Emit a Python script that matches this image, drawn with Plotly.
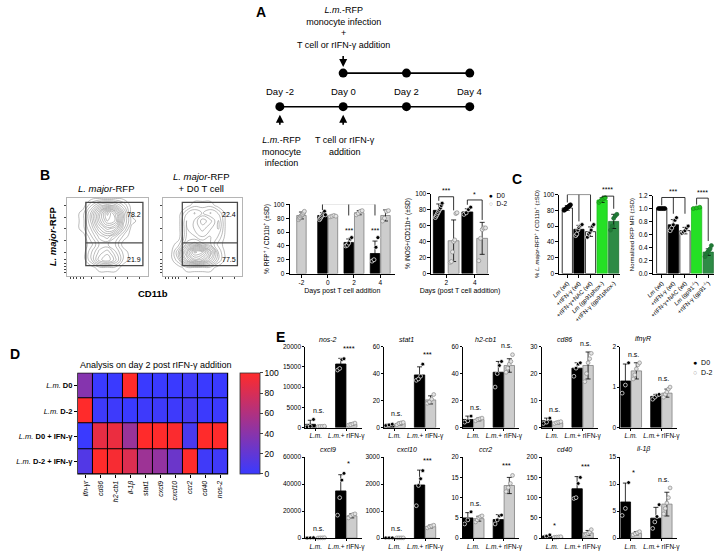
import plotly.graph_objects as go

W, H = 720, 551
FONT = "Liberation Sans, Arial, sans-serif"

# ======================= DATA =======================
# --- Panel A: experimental timeline ---
timeline_days = [-2, 0, 2, 4]
timeline_top_days = [0, 2, 4]
timeline_labels = ["Day -2", "Day 0", "Day 2", "Day 4"]

# --- Panel B: flow cytometry density (estimated grid; rows = RFP low->high, cols = CD11b low->high) ---
flow_grid = [0.0, 0.1, 0.2, 0.3, 0.4, 0.5, 0.6, 0.7, 0.8, 0.9, 1.0]
flow_lm = [
    [0, 0, 0, 0, 0, 0, 0, 0, 0, 0, 0],
    [0, 0, 0, 0, 1, 1, 1, 0, 0, 0, 0],
    [0, 0, 0, 2, 5, 6, 4, 1, 0, 0, 0],
    [0, 0, 0, 2, 4, 5, 3, 1, 0, 0, 0],
    [0, 0, 0, 1, 3, 3, 2, 0, 0, 0, 0],
    [0, 0, 0, 2, 4, 5, 3, 1, 0, 0, 0],
    [0, 0, 1, 3, 6, 8, 7, 3, 0, 0, 0],
    [0, 0, 1, 4, 8, 11, 10, 4, 1, 0, 0],
    [0, 0, 1, 4, 8, 12, 9, 4, 0, 0, 0],
    [0, 0, 0, 2, 4, 5, 4, 2, 0, 0, 0],
    [0, 0, 0, 0, 0, 0, 0, 0, 0, 0, 0],
]
flow_lm_t = [
    [0, 0, 0, 0, 0, 0, 0, 0, 0, 0, 0],
    [0, 0, 0, 1, 1, 1, 1, 0, 0, 0, 0],
    [0, 0, 2, 6, 9, 8, 5, 2, 0, 0, 0],
    [0, 0, 3, 8, 12, 11, 7, 2, 0, 0, 0],
    [0, 0, 1, 4, 5, 4, 3, 1, 0, 0, 0],
    [0, 0, 0, 3, 3, 2, 3, 2, 0, 0, 0],
    [0, 0, 0, 3, 2, 1, 2, 3, 0, 0, 0],
    [0, 0, 0, 3, 2, 0, 1, 3, 0, 0, 0],
    [0, 0, 0, 2, 3, 2, 3, 2, 0, 0, 0],
    [0, 0, 0, 0, 1, 1, 1, 0, 0, 0, 0],
    [0, 0, 0, 0, 0, 0, 0, 0, 0, 0, 0],
]
flow_lm_quads = ["78.2", "21.9"]
flow_lm_t_quads = ["22.4", "77.5"]

# --- Panel B: % RFP+ / CD11b+ over days ---
b1_d0_days = [0, 2, 4]
b1_d0_mean = [84, 45, 29]
b1_d0_sd = [4, 5, 18]
b1_d0_pts = [[78, 80, 82, 84, 86, 88, 90, 85], [40, 41, 44, 50, 52], [18, 20, 38, 52]]
b1_d2_days = [-2, 0, 2, 4]
b1_d2_mean = [84, 83, 88, 84]
b1_d2_sd = [5, 1, 3, 8]
b1_d2_pts = [[78, 80, 81, 83, 84, 85, 86, 88, 90], [82, 83, 84, 83], [85, 87, 90, 91], [76, 80, 90, 91]]

# --- Panel B: % iNOS+ / CD11b+ ---
b2_days = [2, 4]
b2_d0_mean = [79, 77]
b2_d0_sd = [8, 4]
b2_d0_pts = [[70, 72, 74, 76, 78, 80, 82, 85, 88], [74, 76, 80, 83]]
b2_d2_mean = [41, 44]
b2_d2_sd = [26, 20]
b2_d2_pts = [[14, 15, 27, 40, 42, 75, 76], [16, 44, 55, 57, 57]]

# --- Panel C ---
c1_labels = ["<i>Lm</i> (wt)", "+rIFN-γ (wt)", "+rIFN-γ+NAC (wt)", "<i>Lm</i> (gp91phox-)", "+rIFN-γ (gp91phox-)"]
c1_mean = [83, 56, 53, 93, 66]
c1_sd = [3, 5, 6, 3, 9]
c1_pts = [[80, 81, 82, 83, 84, 85, 86, 87], [48, 50, 55, 58, 60, 61, 62], [46, 50, 52, 55, 60, 62],
          [90, 92, 94, 95, 96], [55, 60, 70, 73, 75]]
c2_labels = ["<i>Lm</i> (wt)", "+rIFN-γ (wt)", "+rIFN-γ+NAC (wt)", "<i>Lm</i> (gp91<sup>-/-</sup>)", "+rIFN-γ (gp91<sup>-/-</sup>)"]
c2_mean = [1.0, 0.75, 0.66, 1.01, 0.33]
c2_sd = [0.01, 0.08, 0.05, 0.01, 0.05]
c2_pts = [[1, 1, 1, 1, 1], [0.66, 0.7, 0.75, 0.82, 0.86], [0.62, 0.64, 0.66, 0.7, 0.73],
          [1.0, 1.01, 1.02], [0.26, 0.3, 0.33, 0.36, 0.38, 0.43]]

# --- Panel D: heatmap ---
heat_rows = ["<i>L.m.</i> <b>D0</b>", "<i>L.m.</i> <b>D-2</b>", "<i>L.m.</i> <b>D0 + IFN-γ</b>", "<i>L.m.</i> <b>D-2 + IFN-γ</b>"]
heat_cols = ["ifn-γr", "cd86", "h2-cb1", "il-1β", "stat1", "cxcl9", "cxcl10", "ccr2", "cd40", "nos-2"]
heat_vals = [
    [38, 0, 0, 100, 0, 0, 0, 3, 0, 0],
    [100, 2, 2, 0, 2, 2, 2, 5, 1, 1],
    [0, 88, 90, 48, 100, 100, 98, 8, 100, 100],
    [12, 100, 96, 82, 50, 45, 25, 100, 3, 3],
]

# --- Panel E: gene expression ---
e_genes = ["nos-2", "stat1", "h2-cb1", "cd86", "ifnγR", "cxcl9", "cxcl10", "ccr2", "cd40", "il-1β"]
e_groups = ["<i>L.m.</i>", "<i>L.m.</i>+ rIFN-γ"]
e_ymax = [20000, 60, 60, 30, 2, 60000, 3000, 20, 200, 15]
e_dtick = [5000, 20, 20, 10, 1, 20000, 1000, 5, 50, 5]
e_d0_mean = [[800, 15700], [2, 39], [6, 41], [2.5, 22], [1.15, 0.77], [200, 35000], [10, 1970], [5, 4.6], [5, 122], [6.7, 3.7]]
e_d0_sd = [[1000, 1400], [0.5, 6], [2.5, 8], [1, 2], [0.42, 0.05], [100, 12000], [5, 550], [1.3, 1.2], [2, 30], [3.5, 2]]
e_d0_pts = [
    [[200, 300, 2000], [14200, 14600, 16800, 17000]],
    [[1.5, 2, 2.5], [35, 36, 38, 47]],
    [[4, 5, 8.5], [30, 40, 46, 49]],
    [[1.5, 2, 3.5], [19, 22, 23.5, 24]],
    [[0.85, 1.05, 1.6], [0.7, 0.75, 0.8, 0.82]],
    [[100, 200, 300], [17000, 30000, 43000, 48000]],
    [[10, 10, 10], [1200, 1950, 2200, 2500]],
    [[3.5, 4.5, 6.5], [3.5, 4.5, 5.5, 5.7]],
    [[3, 5, 8], [98, 100, 135, 150]],
    [[4.2, 5.5, 10.3], [1.8, 3, 4, 6.2]],
]
e_d2_mean = [[300, 800], [3, 20.5], [6, 46], [1.8, 23], [1.4, 0.85], [200, 16500], [10, 430], [4.8, 13], [3, 13], [0.9, 6.3]]
e_d2_sd = [[50, 300], [1, 3], [1, 5], [0.4, 5], [0.2, 0.1], [100, 1500], [5, 50], [0.6, 2], [1, 6], [0.3, 2.2]]
e_d2_pts = [
    [[250, 300, 300, 350], [600, 700, 900, 1100]],
    [[2, 3, 3.5, 3.8], [18, 19, 21, 24.5]],
    [[5, 6, 6.5, 7], [41, 44, 47, 49, 54]],
    [[1.5, 1.8, 2, 2.2], [17, 20, 24, 25.5, 27.5]],
    [[1.2, 1.3, 1.45, 1.55, 1.6], [0.75, 0.82, 0.88, 0.95, 1.0]],
    [[100, 200, 200, 300], [15000, 16500, 17500, 18000]],
    [[10, 10, 10, 10], [380, 420, 450, 480]],
    [[4, 4.5, 5, 5.3, 5.5], [11.5, 12.5, 13.5, 15.5]],
    [[2, 2.5, 3, 3.5], [8, 10, 12, 15, 21]],
    [[0.6, 0.8, 1, 1.2], [4.5, 5.5, 6.5, 7.5, 9.3]],
]
e_sig = [["n.s.", "****"], ["n.s.", "***"], ["n.s.", "n.s."], ["n.s.", "n.s."], ["n.s.", "n.s."],
         ["n.s.", "*"], ["n.s.", "***"], ["n.s.", "***"], ["*", "***"], ["*", "n.s."]]

# ======================= HELPERS =======================
def dom_x(a, b):
    return [a / W, b / W]


def dom_y(top, bottom):
    return [1 - bottom / H, 1 - top / H]


def px(x):
    return x / W


def py(y):
    return 1 - y / H


def ax_names(n):
    return ("x" if n == 1 else f"x{n}"), ("y" if n == 1 else f"y{n}")


fig = go.Figure()
annotations = []
shapes = []
layout_axes = {}

BLACK = "black"
GRAY_FILL = "#cdcdcd"
GRAY_EDGE = "#808080"


def text(x, y, s, size=8, xanchor="center", yanchor="middle", xref="paper", yref="paper", angle=0, color="black", **kw):
    annotations.append(dict(x=x, y=y, text=s, showarrow=False, xref=xref, yref=yref, xanchor=xanchor,
                            yanchor=yanchor, textangle=angle, font=dict(size=size, family=FONT, color=color), **kw))


def axis_style(**kw):
    base = dict(showline=True, linecolor="black", linewidth=1, ticks="outside", ticklen=3, tickwidth=1,
                tickcolor="black", showgrid=False, zeroline=False, fixedrange=True,
                tickfont=dict(size=6.5, family=FONT, color="black"))
    base.update(kw)
    return base


def as_list(v, n):
    return v if isinstance(v, list) else [v] * n


def add_bars(n, centers, means, sds, pts, width, fill, edge, pfill, pedge, pattern=None, psize=4):
    xa, ya = ax_names(n)
    k = len(centers)
    marker = dict(color=fill, line=dict(color=edge, width=0.8))
    if pattern is not None:
        marker["pattern"] = dict(shape=pattern, fgcolor="black", size=3.5, solidity=0.35, fillmode="replace")
    fig.add_trace(go.Bar(x=centers, y=means, width=width, marker=marker,
                         error_y=dict(type="data", array=sds, color="black", thickness=0.8, width=2.5),
                         xaxis=xa, yaxis=ya, showlegend=False, hoverinfo="skip"))
    pf, pe = as_list(pfill, k), as_list(pedge, k)
    xs, ys, cf, ce = [], [], [], []
    for j, (c, p) in enumerate(zip(centers, pts)):
        m = len(p)
        step = width * 0.62 / max(m - 1, 1)
        for i, v in enumerate(p):
            xs.append(c + (i - (m - 1) / 2) * step)
            ys.append(v)
            cf.append(pf[j])
            ce.append(pe[j])
    fig.add_trace(go.Scatter(x=xs, y=ys, mode="markers", xaxis=xa, yaxis=ya, showlegend=False, hoverinfo="skip",
                             cliponaxis=False,
                             marker=dict(size=psize, color=cf, line=dict(color=ce, width=0.7))))


def bracket(n, xs, level, legs):
    xa, ya = ax_names(n)
    bx = [xs[0], xs[0], xs[-1], xs[-1]]
    by = [legs[0], level, level, legs[-1]]
    fig.add_trace(go.Scatter(x=bx, y=by, mode="lines", line=dict(color="black", width=0.8), xaxis=xa, yaxis=ya,
                             showlegend=False, hoverinfo="skip", cliponaxis=False))
    for xm, lm in zip(xs[1:-1], legs[1:-1]):
        fig.add_trace(go.Scatter(x=[xm, xm], y=[level, lm], mode="lines", line=dict(color="black", width=0.8),
                                 xaxis=xa, yaxis=ya, showlegend=False, hoverinfo="skip", cliponaxis=False))


# ======================= PANEL A =======================
fig.add_trace(go.Scatter(x=timeline_days, y=[0] * len(timeline_days), mode="lines+markers",
                         line=dict(color="black", width=1.6), marker=dict(size=9, color="black"),
                         xaxis="x", yaxis="y", showlegend=False, hoverinfo="skip"))
fig.add_trace(go.Scatter(x=timeline_top_days, y=[1] * len(timeline_top_days), mode="lines+markers",
                         line=dict(color="black", width=1.6), marker=dict(size=9, color="black"),
                         xaxis="x", yaxis="y", showlegend=False, hoverinfo="skip"))
layout_axes["xaxis"] = dict(domain=dom_x(260, 485), range=[-2.5, 4.5], visible=False, fixedrange=True)
layout_axes["yaxis"] = dict(domain=dom_y(40, 134), range=[-0.882, 1.882], visible=False, fixedrange=True)
for d, lab in zip(timeline_days, timeline_labels):
    text(d, 0, lab, size=9.5, xref="x", yref="y", yshift=15)
# arrows
annotations.append(dict(x=timeline_top_days[0], y=1, xref="x", yref="y", ax=0, ay=-23, showarrow=True,
                        arrowhead=2, arrowsize=1, arrowwidth=1.6, arrowcolor="black", standoff=6, text=" "))
for d in timeline_days[:2]:
    annotations.append(dict(x=d, y=0, xref="x", yref="y", ax=0, ay=24, showarrow=True,
                            arrowhead=2, arrowsize=1, arrowwidth=1.6, arrowcolor="black", standoff=8, text=" "))
text(0, py(49), "<i>L.m.</i>-RFP<br>monocyte infection<br>+<br>T cell or rIFN-γ addition", size=9,
     xref="x", yanchor="bottom")
text(-2, py(131), "<i>L.m.</i>-RFP<br>monocyte<br>infection", size=9, xref="x", yanchor="top", xshift=2)
text(0, py(131), "T cell or rIFN-γ<br>addition", size=9, xref="x", yanchor="top", xshift=2)

# ======================= PANEL B: flow plots =======================
flow_ticks = [0.04, 0.08, 0.12, 0.16, 0.2, 0.3, 0.45, 0.6, 0.75, 0.9]
for n, z, (x0, x1), quads, gx0, gx1 in [(2, flow_lm, (60, 142), flow_lm_quads, 0.232, 0.939),
                                        (3, flow_lm_t, (157, 238), flow_lm_t_quads, 0.247, 0.938)]:
    xa, ya = ax_names(n)
    fig.add_trace(go.Contour(z=z, x=flow_grid, y=flow_grid, xaxis=xa, yaxis=ya, showscale=False,
                             contours=dict(coloring="lines", start=0.5, end=12, size=0.8),
                             colorscale=[[0, "#8d8d8d"], [1, "#8d8d8d"]],
                             line=dict(width=0.6, smoothing=1.3), hoverinfo="skip"))
    fa = dict(range=[0, 1], showline=True, linecolor="#b5b5b5", linewidth=1, mirror=True, ticks="outside",
              ticklen=2, tickcolor="#444", tickvals=flow_ticks, showticklabels=False, showgrid=False,
              zeroline=False, fixedrange=True)
    layout_axes[f"xaxis{n}"] = dict(domain=dom_x(x0, x1), anchor=ya, **fa)
    layout_axes[f"yaxis{n}"] = dict(domain=dom_y(196, 275), anchor=xa, **fa)
    shapes.append(dict(type="rect", xref=xa, yref=ya, x0=gx0, x1=gx1, y0=0.127, y1=0.937,
                       line=dict(color="#4a4a4a", width=1.3)))
    shapes.append(dict(type="line", xref=xa, yref=ya, x0=gx0, x1=gx1, y0=0.418, y1=0.418,
                       line=dict(color="#4a4a4a", width=1.3)))
    text(0.83, 0.785, quads[0], size=7, xref=xa, yref=ya)
    text(0.83, 0.2, quads[1], size=7, xref=xa, yref=ya)

text(px(100), py(187), "<i>L. major</i>-RFP", size=9.5)
text(px(196), py(181), "<i>L. major</i>-RFP<br>+ D0 T cell", size=9.5)
text(px(45), py(235), "<b><i>L. major</i>-RFP</b>", size=9.5, angle=-90)
text(px(147), py(293), "<b>CD11b</b>", size=9.5)

# ======================= PANEL B: bar charts =======================
b1_w = 0.72
b1_black_c = [d - 0.4 for d in b1_d0_days]
b1_gray_c = [d + 0.4 if d in b1_d0_days else d for d in b1_d2_days]
add_bars(4, b1_gray_c, b1_d2_mean, b1_d2_sd, b1_d2_pts, b1_w, GRAY_FILL, GRAY_EDGE, "#e4e4e4", "#8a8a8a")
add_bars(4, b1_black_c, b1_d0_mean, b1_d0_sd, b1_d0_pts, b1_w, BLACK, BLACK, BLACK, "white")
bracket(4, b1_black_c, 101, [92, 84, 84])
for c in b1_black_c[1:]:
    text(c, 55, "***", size=7, xref="x4", yref="y4", yanchor="bottom")
layout_axes["xaxis4"] = axis_style(domain=dom_x(286, 393), range=[-2.9, 5.125], anchor="y4",
                                   tickvals=b1_d2_days, ticktext=[str(d) for d in b1_d2_days],
                                   title=dict(text="Days post T cell addition", font=dict(size=7, family=FONT), standoff=2))
layout_axes["yaxis4"] = axis_style(domain=dom_y(203, 273), range=[0, 100], anchor="x4", dtick=20,
                                   title=dict(text="% RFP<sup>+</sup> / CD11b<sup>+</sup> (±SD)",
                                              font=dict(size=6.5, family=FONT), standoff=3))

b2_w = 0.76
b2_black_c = [d - 0.52 for d in b2_days]
b2_gray_c = [d + 0.52 for d in b2_days]
add_bars(5, b2_black_c, b2_d0_mean, b2_d0_sd, b2_d0_pts, b2_w, BLACK, BLACK, BLACK, "white")
add_bars(5, b2_gray_c, b2_d2_mean, b2_d2_sd, b2_d2_pts, b2_w, GRAY_FILL, GRAY_EDGE, "#e4e4e4", "#8a8a8a")
bracket(5, [b2_black_c[0], b2_gray_c[0]], 96, [91, 79])
bracket(5, [b2_black_c[1], b2_gray_c[1]], 92, [86, 67])
text(b2_days[0], 96.5, "***", size=7, xref="x5", yref="y5", yanchor="bottom")
text(b2_days[1], 92.5, "*", size=7, xref="x5", yref="y5", yanchor="bottom")
layout_axes["xaxis5"] = axis_style(domain=dom_x(430, 488), range=[0.966, 4.966], anchor="y5",
                                   tickvals=b2_days, ticktext=[str(d) for d in b2_days],
                                   title=dict(text="Days (post T cell addition)", font=dict(size=7, family=FONT), standoff=2))
layout_axes["yaxis5"] = axis_style(domain=dom_y(192, 273), range=[0, 100], anchor="x5", dtick=20,
                                   title=dict(text="% iNOS+/CD11b+ (±SD)", font=dict(size=6.5, family=FONT), standoff=3))
text(px(486), py(194), "●  D0", size=6.5, xanchor="left")
text(px(486), py(202), "<span style='color:#9a9a9a'>○</span>  D-2", size=6.5, xanchor="left")

# ======================= PANEL C =======================
c_x = list(range(5))
c_fill = ["white", "black", "white", "#25e025", "#2e8b46"]
c_edge = ["black", "black", "black", "#1fc01f", "#1f6e33"]
c_pattern = ["", "", "\\", "", ""]
c_pfill = ["black", "black", "black", "#1fc01f", "#1f7a35"]
c_pedge = ["black", "white", "white", "#158f15", "#1f6e33"]
add_bars(6, c_x, c1_mean, c1_sd, c1_pts, 0.88, c_fill, c_edge, c_pfill, c_pedge, pattern=c_pattern)
add_bars(7, c_x, c2_mean, c2_sd, c2_pts, 0.88, c_fill, c_edge, c_pfill, c_pedge, pattern=c_pattern)
bracket(6, [0, 1, 2], 100, [90, 66, 66])
bracket(6, [3, 4], 98, [96, 82])
text(1, 101, "****", size=7, xref="x6", yref="y6", yanchor="bottom")
text(3.5, 99, "****", size=7, xref="x6", yref="y6", yanchor="bottom")
bracket(7, [0, 1, 2], 1.17, [1.05, 0.92, 0.92])
bracket(7, [3, 4], 1.16, [1.06, 0.5])
text(1, 1.175, "***", size=7, xref="x7", yref="y7", yanchor="bottom")
text(3.5, 1.165, "****", size=7, xref="x7", yref="y7", yanchor="bottom")
for n, (x0, x1), labels, yr, dt, fmt, ytitle in [
        (6, (560, 621), c1_labels, [0, 100], 20, "d", "% <i>L. major</i>-RFP<sup>+</sup> / CD11b<sup>+</sup> (±SD)"),
        (7, (655, 717), c2_labels, [0, 1.2], 0.2, ".1f", "Normalized RFP MFI (±SD)")]:
    layout_axes[f"xaxis{n}"] = axis_style(domain=dom_x(x0, x1), range=[-0.68, 4.5] if n == 6 else [-0.75, 4.5],
                                          anchor=f"y{n}", tickvals=c_x, ticktext=labels, tickangle=-45,
                                          tickfont=dict(size=6, family=FONT, color="black"))
    layout_axes[f"yaxis{n}"] = axis_style(domain=dom_y(193 if n == 6 else 194, 273), range=yr, anchor=f"x{n}",
                                          dtick=dt, tickformat=fmt,
                                          title=dict(text=ytitle, font=dict(size=6, family=FONT), standoff=3))

# ======================= PANEL D =======================
fig.add_trace(go.Heatmap(z=heat_vals, x=list(range(len(heat_cols))), y=list(range(len(heat_rows))),
                         xaxis="x8", yaxis="y8", zmin=0, zmax=100, xgap=1, ygap=1,
                         colorscale=[[0, "#3a3aff"], [1, "#ff2b2b"]], hoverinfo="skip",
                         colorbar=dict(x=px(236), xanchor="left", y=py(476), yanchor="bottom",
                                       len=(476 - 374) / H, lenmode="fraction", thickness=20,
                                       thicknessmode="pixels", tickvals=[0, 20, 40, 60, 80, 100],
                                       ticks="outside", ticklen=3, tickfont=dict(size=8.5, family=FONT),
                                       outlinewidth=0.8, outlinecolor="#333", xpad=0, ypad=0)))
shapes.append(dict(type="rect", xref="x8 domain", yref="y8 domain", x0=0, x1=1, y0=0, y1=1,
                   fillcolor="black", line=dict(color="black", width=1.2), layer="below"))
layout_axes["xaxis8"] = axis_style(domain=dom_x(71, 223), range=[-0.5, 9.5], anchor="y8", showline=False,
                                   tickvals=list(range(len(heat_cols))),
                                   ticktext=[f"<i>{c}</i>" for c in heat_cols], tickangle=-90,
                                   tickfont=dict(size=7, family=FONT, color="black"))
layout_axes["yaxis8"] = axis_style(domain=dom_y(374, 476), range=[3.5, -0.5], anchor="x8", showline=False,
                                   tickvals=list(range(len(heat_rows))), ticktext=heat_rows,
                                   tickfont=dict(size=7.5, family=FONT, color="black"))
text(px(150), py(366), "Analysis on day 2 post rIFN-γ addition", size=9)

# ======================= PANEL E =======================
e_w = 0.34
for g in range(len(e_genes)):
    n = 9 + g
    row, col = divmod(g, 5)
    x0 = 302 + 80 * col
    top, bottom = (347, 429) if row == 0 else (459, 541)
    cats = [0, 1]
    add_bars(n, [c - 0.18 for c in cats], e_d0_mean[g], e_d0_sd[g], e_d0_pts[g], e_w,
             BLACK, BLACK, BLACK, "white", psize=3.8)
    add_bars(n, [c + 0.18 for c in cats], e_d2_mean[g], e_d2_sd[g], e_d2_pts[g], e_w,
             GRAY_FILL, GRAY_EDGE, "#e4e4e4", "#8a8a8a", psize=3.8)
    layout_axes[f"xaxis{n}"] = axis_style(domain=dom_x(x0, x0 + 57), range=[-0.34, 1.5], anchor=f"y{n}",
                                          tickvals=cats, ticktext=e_groups, ticklen=2)
    layout_axes[f"yaxis{n}"] = axis_style(domain=dom_y(top, bottom), range=[0, e_ymax[g]], anchor=f"x{n}",
                                          dtick=e_dtick[g], tickformat="d", ticklen=2)
    text(0.4, e_ymax[g], f"<i>{e_genes[g]}</i>", size=7, xref=f"x{n}", yref=f"y{n}", yanchor="bottom", yshift=2)
    for c in cats:
        tops = [e_d0_mean[g][c] + e_d0_sd[g][c], e_d2_mean[g][c] + e_d2_sd[g][c]] + e_d0_pts[g][c] + e_d2_pts[g][c]
        s = e_sig[g][c]
        text(c + 0.08, max(tops) + 0.04 * e_ymax[g], s, size=7 if s == "n.s." else 7.5,
             xref=f"x{n}", yref=f"y{n}", yanchor="bottom")
text(px(694), py(363), "●  D0", size=7, xanchor="left")
text(px(694), py(373), "<span style='color:#9a9a9a'>○</span>  D-2", size=7, xanchor="left")

# ======================= PANEL LETTERS =======================
for letter, (lx, ly) in {"A": (257, 8), "B": (38, 173), "C": (517, 177), "D": (7, 355), "E": (277, 337)}.items():
    text(px(lx), py(ly), f"<b>{letter}</b>", size=14)

fig.update_layout(width=W, height=H, margin=dict(l=0, r=0, t=0, b=0), paper_bgcolor="white",
                  plot_bgcolor="white", font=dict(family=FONT, size=8, color="black"), showlegend=False,
                  barmode="overlay", annotations=annotations, shapes=shapes, **layout_axes)
fig.write_html("out.html", config={"displayModeBar": False},
               post_script="document.body.style.margin='0';document.body.style.overflow='hidden';")
